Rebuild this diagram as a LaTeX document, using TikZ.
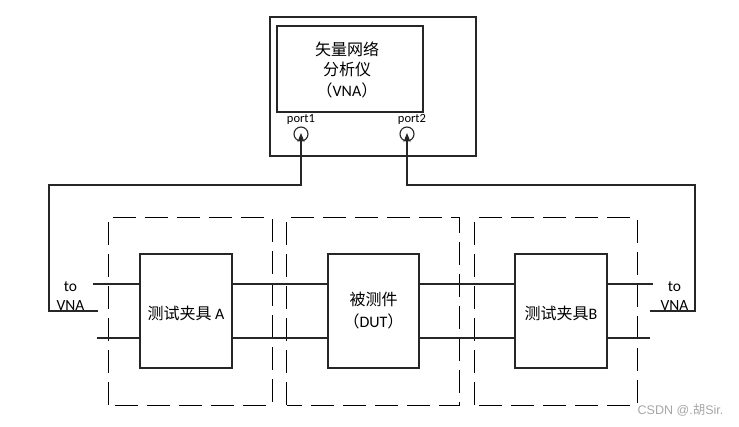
\documentclass[tikz,border=0pt]{standalone}
\usepackage{fontspec}
\setmainfont{Carlito}
\newfontfamily\cjk{Noto Sans CJK SC}
\newfontfamily\wmfont{Liberation Sans}
\usetikzlibrary{arrows.meta}
\begin{document}
\begin{tikzpicture}[x=1pt,y=-1pt,
  wire/.style={line width=1.1pt,black!85},
  box/.style={draw=black!85,line width=1.1pt,inner sep=0pt,fill=white},
  dashline/.style={draw=black,line width=1.3pt,dash pattern=on 23pt off 9pt},
  area/.style={inner sep=0pt},
  lbl/.style={font=\fontsize{16}{20.5}\selectfont,align=center,inner sep=0pt},
  plbl/.style={font=\fontsize{12.5}{14}\selectfont,inner sep=0pt},
  port/.style={draw=black!85,line width=1.1pt,circle,minimum size=14pt,inner sep=0pt}]
\useasboundingbox (0,0) rectangle (739,426);
% dashed fixture areas
\node[area,minimum width=163pt,minimum height=187pt] (dA) at (190.5,311.5) {};
\node[area,minimum width=172pt,minimum height=187pt] (dD) at (373,311.5) {};
\node[area,minimum width=162pt,minimum height=187pt] (dB) at (556,311.5) {};
\foreach \n in {dA,dD,dB}
  \draw[dashline] (\n.south west) -- (\n.north west) -- (\n.north east) -- (\n.south east) -- cycle;
% VNA
\node[box,minimum width=206pt,minimum height=139pt] (vna) at (373,86.5) {};
\node[box,minimum width=146pt,minimum height=86pt] (vnain) at (350,69) {};
\node[lbl] (vnat) at (347,69.5) {{\cjk 矢量网络}\\{\cjk 分析仪}\\{\cjk （}VNA{\cjk ）}};
\node[port] (p1) at (301,134) {};
\node[port] (p2) at (407,134) {};
\node[plbl] (p1l) at (301,119) {port1};
\node[plbl] (p2l) at (412,119) {port2};
% fixtures and DUT
\node[box,minimum width=92pt,minimum height=114pt] (A) at (186,311) {};
\node[box,minimum width=91pt,minimum height=114pt] (D) at (373.5,311) {};
\node[box,minimum width=92pt,minimum height=114pt] (B) at (561,311) {};
\node[lbl] (At) at (186,313) {{\cjk 测试夹具} A};
\node[lbl,font=\fontsize{16}{22}\selectfont] (Dt) at (373.5,311) {{\cjk 被测件}\\{\cjk （}DUT{\cjk ）}};
\node[lbl] (Bt) at (561,313) {{\cjk 测试夹具}B};
% to VNA labels
\node[lbl,font=\fontsize{15.5}{18.5}\selectfont] (tl) at (70.5,296) {to\\VNA};
\node[lbl,font=\fontsize{15.5}{18.5}\selectfont] (tr) at (674.5,296) {to\\VNA};
% signal lines
\coordinate (u1) at (93,284);
\coordinate (u2) at (653,284);
\coordinate (d1) at (97,338);
\coordinate (d2) at (650,338);
\draw[wire] (u1) -- (u1 -| A.west);
\draw[wire] (A.east |- u1) -- (D.west |- u1);
\draw[wire] (D.east |- u1) -- (B.west |- u1);
\draw[wire] (B.east |- u1) -- (u2);
\draw[wire] (d1) -- (d1 -| A.west);
\draw[wire] (A.east |- d1) -- (D.west |- d1);
\draw[wire] (D.east |- d1) -- (B.west |- d1);
\draw[wire] (B.east |- d1) -- (d2);
% cables to VNA
\coordinate (cl) at (98,311);
\coordinate (clc) at (49,185);
\coordinate (cr) at (650,311);
\coordinate (crc) at (695,185);
\draw[wire,shorten >=-1pt,-{Stealth[length=9pt,width=7pt]}] (cl) -| (clc) -| (p1.center);
\draw[wire,shorten >=-1pt,-{Stealth[length=9pt,width=7pt]}] (cr) -| (crc) -| (p2.center);
% watermark
\node[font=\wmfont\fontsize{12.5}{14}\selectfont,text=black!35,inner sep=0pt] (wm) at (680.5,410) {CSDN @.{\cjk 胡}Sir.};
\end{tikzpicture}
\end{document}
